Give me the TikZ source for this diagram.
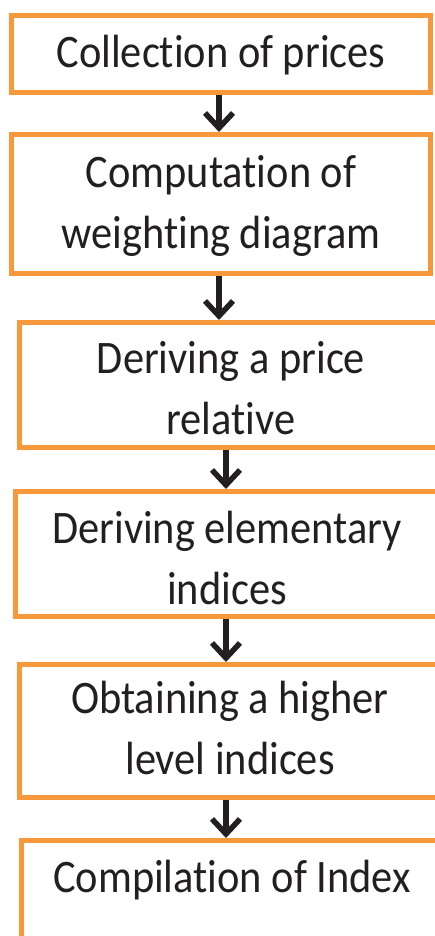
\documentclass[tikz,border=0pt]{standalone}
\usepackage{fontspec}
\setmainfont[FakeStretch=0.91,Ligatures={NoCommon}]{Carlito}
\usetikzlibrary{arrows.meta}
\definecolor{boxorange}{RGB}{247,152,58}
\definecolor{ink}{RGB}{35,31,32}
\tikzset{
  stepbox/.style={draw=boxorange, line width=5pt, rectangle, inner sep=0pt,
    align=center, text=ink,
    font=\fontsize{46.6pt}{61pt}\selectfont},
  flow/.style={draw=ink, line width=5.5pt,
    -{Straight Barb[length=15pt,width=28pt]}}
}
\begin{document}
\begin{tikzpicture}[x=1pt,y=-1pt]
  \useasboundingbox (0,0) rectangle (435,936);
  \clip (0,0) rectangle (435,936);

  % text height/depth are chosen so that each label sits where it should
  % inside its box (the reference point is the baseline of the last line)
  \node[stepbox, minimum width=419pt, minimum height=77pt,
        text height=30pt, text depth=2pt]
    (b1) at (221,54) {Collection of prices};
  \node[stepbox, minimum width=419pt, minimum height=139pt,
        text height=91pt, text depth=3pt]
    (b2) at (221,204) {Computation of\\weighting diagram};
  \node[stepbox, minimum width=423pt, minimum height=125pt,
        text height=101pt, text depth=3pt]
    (b3) at (231,385) {Deriving a price\\relative};
  \node[stepbox, minimum width=423pt, minimum height=125pt,
        text height=101pt, text depth=1pt]
    (b4) at (227,554) {Deriving elementary\\indices};
  \node[stepbox, minimum width=421pt, minimum height=133pt,
        text height=91pt, text depth=5pt]
    (b5) at (230,731) {Obtaining a higher\\level indices};
  \node[stepbox, minimum width=421pt, minimum height=157pt,
        text height=30pt, text depth=84pt]
    (b6) at (232,919) {Compilation of Index};

  \draw[flow] ([xshift=-2pt]b1.south) -- ([xshift=-2pt]b1.south |- b2.north);
  \draw[flow] ([xshift=-2pt]b2.south) -- ([xshift=-2pt]b2.south |- b3.north);
  \draw[flow] ([xshift=-5pt]b3.south) -- ([xshift=-5pt]b3.south |- b4.north);
  \draw[flow] ([xshift=-1pt]b4.south) -- ([xshift=-1pt]b4.south |- b5.north);
  \draw[flow] ([xshift=-4pt]b5.south) -- ([xshift=-4pt]b5.south |- b6.north);
\end{tikzpicture}
\end{document}
